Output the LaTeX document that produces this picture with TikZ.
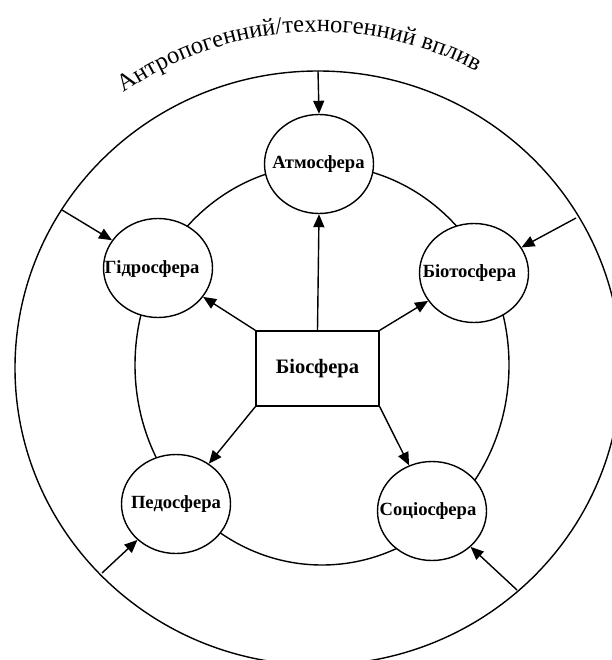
\documentclass[tikz,border=0pt]{standalone}
\usepackage{fontspec}
\setmainfont{Liberation Serif}
\usetikzlibrary{arrows.meta,decorations.text,shapes.geometric}
\begin{document}
\begin{tikzpicture}[x=1pt,y=1pt,
  ln/.style={line width=1.4pt},
  arr/.style={line width=1.4pt,-{Triangle[length=13pt,width=11pt]}},
  sphere/.style={ellipse, draw, line width=1.4pt, fill=white, minimum width=109pt, minimum height=99pt, inner sep=0pt},
  spherelabel/.style={font=\bfseries\fontsize{18.6}{20}\selectfont, inner sep=0pt},
  core/.style={rectangle, draw, line width=1.4pt, fill=white, minimum width=123pt, minimum height=75pt, font=\bfseries\fontsize{20.5}{24}\selectfont}]
\useasboundingbox (0,0) rectangle (611,-660);
\fill[white] (0,0) rectangle (611,-660);
% rings
\draw[ln] (318,-368) ellipse [x radius=303pt, y radius=297pt];
\draw[ln] (322,-365) ellipse [x radius=187pt, y radius=200pt];
% spheres
\node[sphere] (atm) at (319,-164) {};
\node[sphere] (hyd) at (158,-268) {};
\node[sphere] (bio) at (474,-273) {};
\node[sphere] (ped) at (176,-504) {};
\node[sphere] (soc) at (432,-511) {};
\node[spherelabel] (atmL) at (318.5,-164) {Атмосфера};
\node[spherelabel] (hydL) at (152,-269) {Гідросфера};
\node[spherelabel] (bioL) at (469.5,-273) {Біотосфера};
\node[spherelabel] (pedL) at (176,-504) {Педосфера};
\node[spherelabel] (socL) at (428,-511) {Соціосфера};
% core
\node[core] (core) at (317.5,-368.5) {Біосфера};
% inner arrows
\draw[arr] (core.north) -- (atm.south);
\draw[arr] (core.north west) -- (hyd);
\draw[arr] (core.north east) -- (bio);
\draw[arr] (core.south west) -- (ped);
\draw[arr] (core.south east) -- (soc);
% outer arrows
\coordinate (oA) at (318,-71);
\coordinate (oH) at (62,-210);
\coordinate (oB) at (576,-218);
\coordinate (oP) at (102,-573);
\coordinate (oS) at (517,-590);
\draw[arr] (oA) -- (atm.north);
\draw[arr] (oH) -- (hyd);
\draw[arr] (oB) -- (bio);
\draw[arr] (oP) -- (ped);
\draw[arr] (oS) -- (soc);
% title along arc
\path[decorate, decoration={text along path, text align=center,
  text={|\fontsize{24.5}{28}\selectfont|Антропогенний/техногенний вплив}}]
  (318,-372) ++(140:340pt) arc[start angle=140, end angle=47, radius=340pt];
\end{tikzpicture}
\end{document}
